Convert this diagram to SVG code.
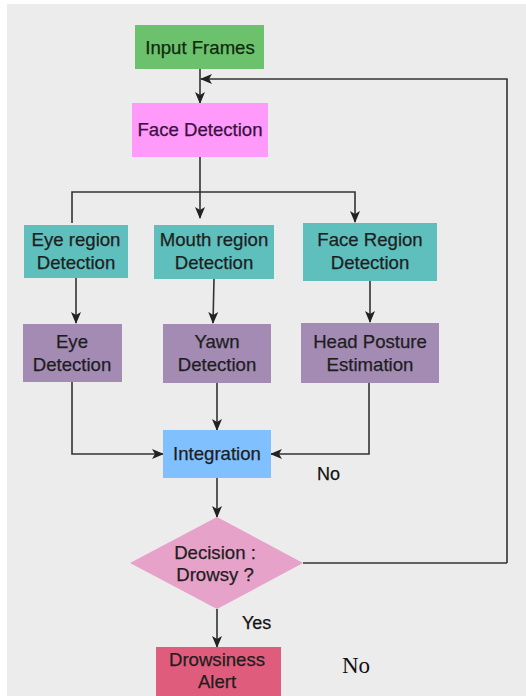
<svg xmlns="http://www.w3.org/2000/svg" width="526" height="696" viewBox="0 0 526 696">
<style>
text{font-family:"Liberation Sans",Arial,sans-serif;font-size:18.6px;text-anchor:middle;fill:#1e1e1e;stroke:#1e1e1e;stroke-width:0.25}
.c{fill:none;stroke:#333;stroke-width:1.6}
.lbl{text-anchor:start;font-size:18px;fill:#111}
</style>
<defs>
<marker id="ah" markerUnits="userSpaceOnUse" markerWidth="12" markerHeight="12" viewBox="0 0 12 12" refX="11" refY="6" orient="auto">
<path d="M0,1 L12,6 L0,11 L3,6 z" fill="#222"/>
</marker>
</defs>
<rect x="0" y="0" width="526" height="696" fill="#fff"/>
<rect x="7" y="4" width="519" height="692" fill="#ececec"/>

<g id="connectors">
<path class="c" d="M200,69 V103" marker-end="url(#ah)"/>
<path class="c" d="M507,563 V79 H201" marker-end="url(#ah)"/>
<path class="c" d="M303,563 H507"/>
<path class="c" d="M200,157 V218" marker-end="url(#ah)"/>
<path class="c" d="M72,223 V192 H355 V222" marker-end="url(#ah)"/>
<path class="c" d="M76,278 V323" marker-end="url(#ah)"/>
<path class="c" d="M214,279 L213,323" marker-end="url(#ah)"/>
<path class="c" d="M370,281 V322" marker-end="url(#ah)"/>
<path class="c" d="M217,383 V430" marker-end="url(#ah)"/>
<path class="c" d="M72,382 V454 H163" marker-end="url(#ah)"/>
<path class="c" d="M369,383 V454 H271" marker-end="url(#ah)"/>
<path class="c" d="M217,478 V517" marker-end="url(#ah)"/>
<path class="c" d="M217,609 V647" marker-end="url(#ah)"/>
<text class="lbl" x="317" y="480">No</text>
<text class="lbl" x="242" y="629">Yes</text>
</g>

<g id="input-frames">
<rect x="135" y="25" width="129" height="44" fill="#6cc26c"/>
<text x="200" y="54" style="fill:#102a10;stroke:#102a10">Input Frames</text>
</g>
<g id="face-detection">
<rect x="132" y="103" width="136" height="54" fill="#ff99fa"/>
<text x="200" y="136" style="fill:#3a1040;stroke:#3a1040">Face Detection</text>
</g>
<g id="eye-region">
<rect x="24" y="225" width="104" height="53" fill="#5fbfbd"/>
<text x="76" y="246">Eye region</text>
<text x="76" y="269">Detection</text>
</g>
<g id="mouth-region">
<rect x="154" y="225" width="120" height="54" fill="#5fbfbd"/>
<text x="214" y="246">Mouth region</text>
<text x="214" y="269">Detection</text>
</g>
<g id="face-region">
<rect x="303" y="223" width="134" height="58" fill="#5fbfbd"/>
<text x="370" y="246">Face Region</text>
<text x="370" y="269">Detection</text>
</g>
<g id="eye-detection">
<rect x="23" y="324" width="99" height="58" fill="#a38bb4"/>
<text x="72" y="348">Eye</text>
<text x="72" y="371">Detection</text>
</g>
<g id="yawn-detection">
<rect x="163" y="324" width="108" height="59" fill="#a38bb4"/>
<text x="217" y="348">Yawn</text>
<text x="217" y="371">Detection</text>
</g>
<g id="head-posture">
<rect x="301" y="323" width="138" height="60" fill="#a38bb4"/>
<text x="370" y="348">Head Posture</text>
<text x="370" y="371">Estimation</text>
</g>
<g id="integration">
<rect x="163" y="430" width="108" height="48" fill="#80c0ff"/>
<text x="217" y="460">Integration</text>
</g>
<g id="decision">
<polygon points="217,517 303,563 217,609 130,563" fill="#e6a2c8"/>
<text x="215" y="559">Decision :</text>
<text x="215" y="581">Drowsy ?</text>
</g>
<g id="drowsiness-alert">
<rect x="156" y="647" width="125" height="49" fill="#e05c7c"/>
<text x="217" y="666">Drowsiness</text>
<text x="217" y="688">Alert</text>
</g>
<text x="342" y="673" style="font-family:'Liberation Serif','Times New Roman',serif;font-size:23px;text-anchor:start;fill:#111;stroke:none">No</text>
</svg>
